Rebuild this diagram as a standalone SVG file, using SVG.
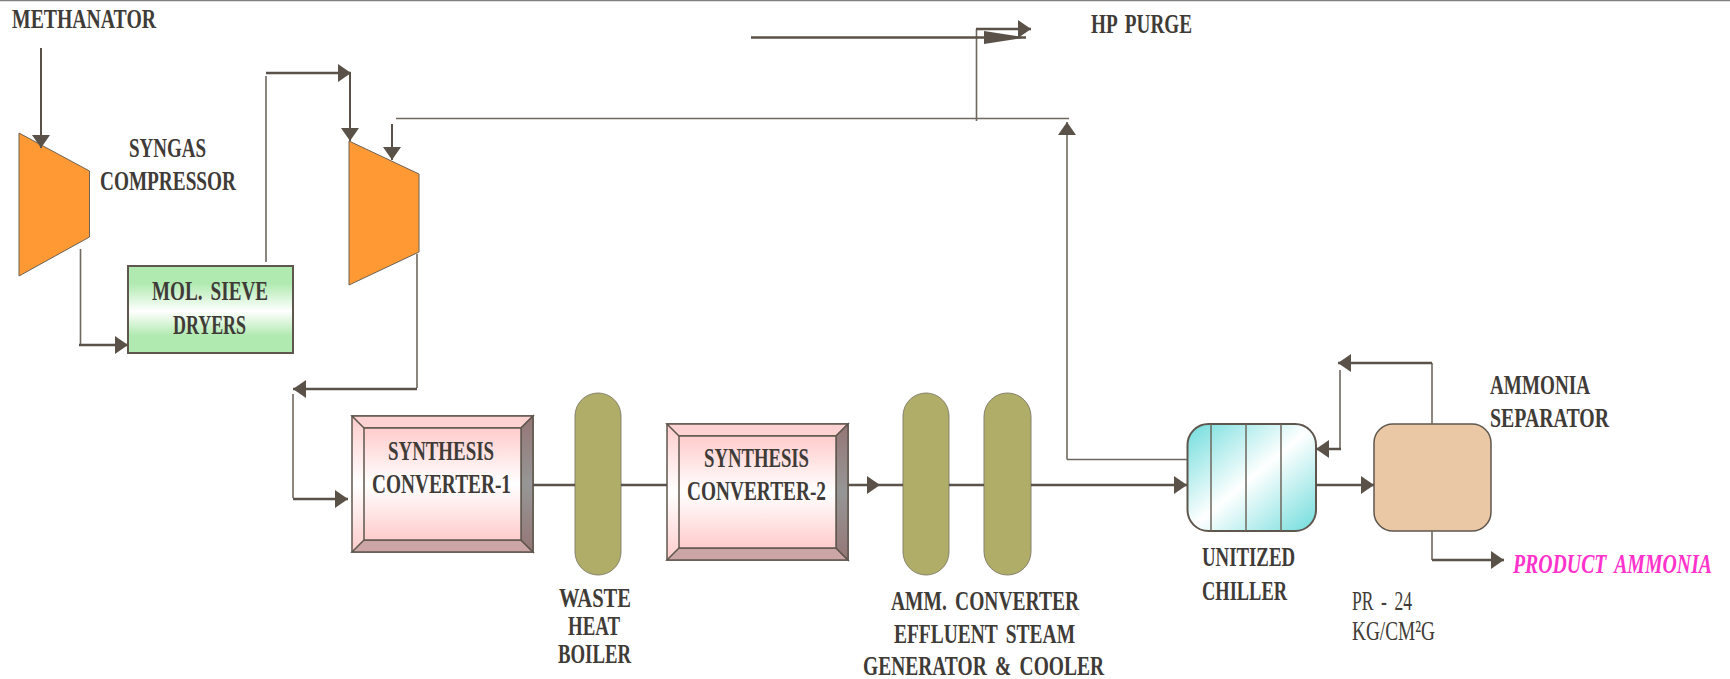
<svg xmlns="http://www.w3.org/2000/svg" width="1730" height="679" viewBox="0 0 1730 679">
<style>
text{font-family:"Liberation Serif","Times New Roman",serif;font-size:28px;font-weight:bold;fill:#3f3b37;word-spacing:5px}
.thin{font-weight:normal}
.mag{font-style:italic;fill:#ff33cc}
.c{fill:none;stroke:#5a5248;stroke-width:2.5}
.l{fill:none;stroke:#6f685f;stroke-width:1.6}
.a{marker-end:url(#ah)}
.edge{stroke:#5f574e;stroke-width:1.5}
.comp{fill:#ff9933;stroke:#6b6257;stroke-width:1}
.vessel{fill:#b0ad68;stroke:#85816a;stroke-width:1}
.face{fill:url(#pink);stroke:#5f574e;stroke-width:1.5}
</style>
<defs>
<marker id="ah" markerUnits="userSpaceOnUse" markerWidth="14" markerHeight="18" viewBox="0 0 14 18" refX="13" refY="9" orient="auto"><path d="M0 0L13 9L0 18Z" fill="#5a5248"/></marker>
<linearGradient id="green" x1="0" y1="0" x2="0" y2="1"><stop offset="0.2" stop-color="#b0eab0"/><stop offset="0.52" stop-color="#ffffff"/><stop offset="0.8" stop-color="#b0eab0"/></linearGradient>
<linearGradient id="pink" x1="0" y1="0" x2="0" y2="1"><stop offset="0" stop-color="#ffcccc"/><stop offset="0.5" stop-color="#ffffff"/><stop offset="1" stop-color="#ffcccc"/></linearGradient>
<linearGradient id="grey" x1="0" y1="0" x2="0" y2="1"><stop offset="0" stop-color="#967676"/><stop offset="0.5" stop-color="#969696"/><stop offset="1" stop-color="#967676"/></linearGradient>
<linearGradient id="teal" x1="0" y1="0" x2="1" y2="1"><stop offset="0" stop-color="#70dcdc"/><stop offset="0.5" stop-color="#ffffff"/><stop offset="1" stop-color="#70dcdc"/></linearGradient>
</defs>
<rect width="1730" height="679" fill="#ffffff"/>
<path d="M0 .5H1730" stroke="#808080" stroke-width="1.5" fill="none"/>

<g id="methanator-label"><text x="12" y="28" textLength="144" lengthAdjust="spacingAndGlyphs">METHANATOR</text></g>

<g id="syngas-compressor">
<polygon class="comp" points="19,133 89.5,171 89.5,237 19,276"/>
<text x="129" y="157" textLength="77" lengthAdjust="spacingAndGlyphs">SYNGAS</text>
<text x="100" y="190" textLength="136" lengthAdjust="spacingAndGlyphs">COMPRESSOR</text>
</g>

<g id="compressor-2"><polygon class="comp" points="349,141 419,174 419,252 349,285"/></g>

<g id="mol-sieve-dryers">
<rect x="128" y="266" width="165" height="87" fill="url(#green)" stroke="#5f574e" stroke-width="2"/>
<text x="152" y="300" textLength="116" lengthAdjust="spacingAndGlyphs">MOL. SIEVE</text>
<text x="173" y="334" textLength="73" lengthAdjust="spacingAndGlyphs">DRYERS</text>
</g>

<g id="synthesis-converter-1">
<rect x="352" y="416" width="181" height="136" fill="url(#pink)" class="edge"/>
<polygon points="352,416 533,416 521,428 364,428" fill="#ffd2d2" class="edge"/>
<polygon points="352,552 533,552 521,540 364,540" fill="#cca6a6" class="edge"/>
<polygon points="533,416 533,552 521,540 521,428" fill="url(#grey)" class="edge"/>
<rect x="364" y="428" width="157" height="112" class="face"/>
<text x="388" y="460" textLength="106" lengthAdjust="spacingAndGlyphs">SYNTHESIS</text>
<text x="372" y="493" textLength="139" lengthAdjust="spacingAndGlyphs">CONVERTER-1</text>
</g>

<g id="waste-heat-boiler">
<rect class="vessel" x="575" y="393" width="46" height="182" rx="23" ry="23"/>
<text x="559" y="607" textLength="72" lengthAdjust="spacingAndGlyphs">WASTE</text>
<text x="568" y="635" textLength="52" lengthAdjust="spacingAndGlyphs">HEAT</text>
<text x="558" y="663" textLength="73" lengthAdjust="spacingAndGlyphs">BOILER</text>
</g>

<g id="synthesis-converter-2">
<rect x="667" y="424" width="181" height="136" fill="url(#pink)" class="edge"/>
<polygon points="667,424 848,424 836,436 679,436" fill="#ffd2d2" class="edge"/>
<polygon points="667,560 848,560 836,548 679,548" fill="#cca6a6" class="edge"/>
<polygon points="848,424 848,560 836,548 836,436" fill="url(#grey)" class="edge"/>
<rect x="679" y="436" width="157" height="112" class="face"/>
<text x="704" y="467" textLength="105" lengthAdjust="spacingAndGlyphs">SYNTHESIS</text>
<text x="687" y="500" textLength="139" lengthAdjust="spacingAndGlyphs">CONVERTER-2</text>
</g>

<g id="effluent-steam-generator">
<rect class="vessel" x="903" y="393" width="46" height="182" rx="23" ry="23"/>
<rect class="vessel" x="984" y="393" width="47" height="182" rx="23.5" ry="23.5"/>
<text x="891" y="610" textLength="188" lengthAdjust="spacingAndGlyphs">AMM. CONVERTER</text>
<text x="894" y="643" textLength="181" lengthAdjust="spacingAndGlyphs">EFFLUENT STEAM</text>
<text x="863" y="675" textLength="241" lengthAdjust="spacingAndGlyphs">GENERATOR &amp; COOLER</text>
</g>

<g id="unitized-chiller">
<rect x="1187.500" y="424" width="128.500" height="107" rx="21" ry="21" fill="url(#teal)" stroke="#5f574e" stroke-width="2"/>
<path d="M1211 424V531M1246 424V531M1281 424V531" stroke="#6f685f" stroke-width="1.5" fill="none"/>
<text x="1202" y="566" textLength="93" lengthAdjust="spacingAndGlyphs">UNITIZED</text>
<text x="1202" y="600" textLength="85" lengthAdjust="spacingAndGlyphs">CHILLER</text>
</g>

<g id="ammonia-separator">
<rect x="1374" y="424" width="117" height="107" rx="19" ry="19" fill="#ebc8a5" stroke="#5f574e" stroke-width="1.5"/>
<text x="1490" y="394" textLength="100" lengthAdjust="spacingAndGlyphs">AMMONIA</text>
<text x="1490" y="427" textLength="119" lengthAdjust="spacingAndGlyphs">SEPARATOR</text>
</g>

<g id="hp-purge-label"><text x="1091" y="33" textLength="101" lengthAdjust="spacingAndGlyphs">HP PURGE</text></g>
<g id="product-ammonia-label"><text class="mag" transform="translate(1513 573) scale(.707 1)">PRODUCT AMMONIA</text></g>
<g id="pressure-label">
<text class="thin" x="1352" y="610" textLength="60" lengthAdjust="spacingAndGlyphs">PR - 24</text>
<text class="thin" x="1352" y="640" textLength="83" lengthAdjust="spacingAndGlyphs">KG/CM²G</text>
</g>

<g id="connectors">
<path class="c a" d="M41 48V148" style="stroke-width:2"/>
<path class="l" d="M80.500 249V344"/>
<path class="c a" d="M79 345H128"/>
<path class="l" d="M266 262V76"/>
<path class="c a" d="M266 73H351"/>
<path class="c a" d="M350 73V141" style="stroke-width:2"/>
<path class="l" d="M396 118.500H1069"/>
<path class="c a" d="M392 124V160" style="stroke-width:2"/>
<path class="l" d="M417 254V388"/>
<path class="c a" d="M417 389H293"/>
<path class="l" d="M293 394V498"/>
<path class="c a" d="M293 499H348"/>
<path class="c" d="M533 485H575M621 485H667"/>
<path class="c a" d="M848 485H880"/>
<path class="c" d="M880 485H903M949 485H984"/>
<path class="c a" d="M1031 485H1187"/>
<path class="l" d="M1067 459.500H1187"/>
<path class="l a" d="M1067 459.500V122"/>
<path class="c a" d="M1316 485H1374"/>
<path class="l" d="M1432 424V363"/>
<path class="c a" d="M1432 363H1338"/>
<path class="l" d="M1340 370V449"/>
<path class="c a" d="M1341 449H1316"/>
<path class="l" d="M1432 531V560"/>
<path class="c a" d="M1432 560H1504"/>
<path class="l" d="M976.500 121V29"/>
<path class="c a" d="M976 29H1031"/>
<path class="c" d="M751 37.500H1026"/>
<path d="M984 31L1026 37.500L984 44Z" fill="#5a5248"/>
</g>
</svg>
